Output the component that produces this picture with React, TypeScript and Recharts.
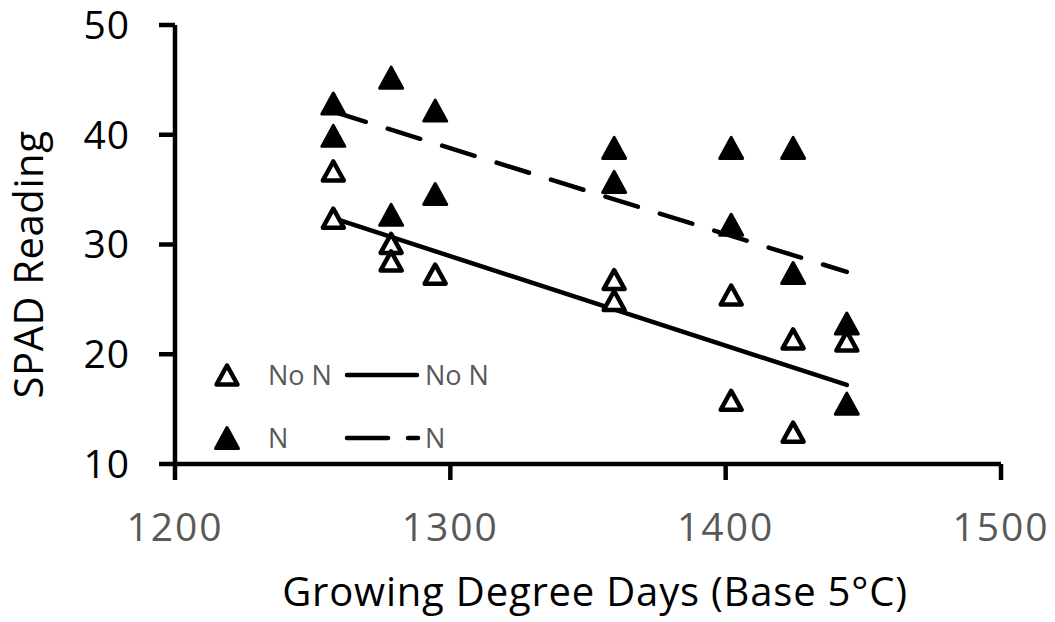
import { ComposedChart, Legend, Line, Scatter, XAxis, YAxis } from "recharts";

// growing degree days and SPAD readings
const noNGdd = [1257.5, 1257.5, 1278.5, 1278.5, 1294.5, 1359.5, 1359.5, 1402, 1402, 1424.5, 1424.5, 1444];
const noNSpad = [36.7, 32.4, 30.1, 28.5, 27.3, 26.8, 24.9, 25.4, 15.8, 21.4, 12.9, 21.2];

const nGdd = [1257.5, 1257.5, 1278.5, 1278.5, 1294.5, 1294.5, 1359.5, 1359.5, 1402, 1402, 1424.5, 1424.5, 1444, 1444];
const nSpad = [42.85, 39.9, 45.2, 32.7, 42.2, 34.6, 38.8, 35.7, 38.8, 31.8, 38.8, 27.4, 22.8, 15.5];

// linear trend lines (end points)
const trendGdd = [1257.5, 1444];
const noNTrend = [32.4, 17.2];
const nTrend = [42.1, 27.5];

const xTicks = [1200, 1300, 1400, 1500];
const yTicks = [10, 20, 30, 40, 50];

const FONT = "'Open Sans', sans-serif";
const GREY = "#595959";

const pairs = (xs: number[], ys: number[]) => xs.map((x, i) => ({ x, y: ys[i] }));

const noNData = pairs(noNGdd, noNSpad);
const nData = pairs(nGdd, nSpad);
const noNLine = pairs(trendGdd, noNTrend);
const nLine = pairs(trendGdd, nTrend);

function OpenTri({ cx, cy }: any) {
  return (
    <path
      d={`M${cx},${cy - 9.5} L${cx + 10.5},${cy + 9.5} L${cx - 10.5},${cy + 9.5} Z`}
      fill="#fff"
      stroke="#000"
      strokeWidth={4.5}
      strokeLinejoin="round"
    />
  );
}

function FilledTri({ cx, cy }: any) {
  return (
    <path
      d={`M${cx},${cy - 10.5} L${cx + 11.5},${cy + 10.5} L${cx - 11.5},${cy + 10.5} Z`}
      fill="#000"
      stroke="#000"
      strokeWidth={3}
      strokeLinejoin="round"
    />
  );
}

function LegendBox() {
  const txt = { fontFamily: FONT, fontSize: 27, fill: GREY };
  return (
    <svg width={300} height={110}>
      <OpenTri cx={17} cy={25} />
      <text x={58} y={25} dy="0.36em" {...txt}>No N</text>
      <line x1={137} x2={207} y1={25} y2={25} stroke="#000" strokeWidth={4.5} strokeLinecap="round" />
      <text x={215} y={25} dy="0.36em" {...txt}>No N</text>
      <FilledTri cx={17} cy={88} />
      <text x={58} y={88} dy="0.36em" {...txt}>N</text>
      <line x1={137} x2={208} y1={88} y2={88} stroke="#000" strokeWidth={4.5} strokeLinecap="round" strokeDasharray="41 20" />
      <text x={215} y={88} dy="0.36em" {...txt}>N</text>
    </svg>
  );
}

function YTitle({ viewBox }: any) {
  const x = viewBox.x + 43;
  const y = viewBox.y + viewBox.height / 2 + 20;
  return (
    <text
      x={x}
      y={y}
      transform={`rotate(-90 ${x} ${y})`}
      textAnchor="middle"
      fontFamily={FONT}
      fontSize={40}
      letterSpacing={0.6}
      fill="#000"
    >
      SPAD Reading
    </text>
  );
}

function XTitle({ viewBox }: any) {
  return (
    <text
      x={viewBox.x + viewBox.width / 2 + 7}
      y={606}
      textAnchor="middle"
      fontFamily={FONT}
      fontSize={40}
      letterSpacing={0.8}
      fill="#000"
    >
      Growing Degree Days (Base 5°C)
    </text>
  );
}

export default function App() {
  const axis = { stroke: "#000", strokeWidth: 4.5 };
  return (
    <div style={{ position: "absolute", left: 0, top: 0, background: "#fff" }}>
      <ComposedChart width={1055} height={622} margin={{ top: 25, right: 54, bottom: 0, left: 0 }}>
        <XAxis
          type="number"
          dataKey="x"
          domain={[1200, 1500]}
          ticks={xTicks}
          height={158}
          axisLine={axis}
          tickLine={axis}
          tickSize={16}
          tickMargin={33}
          tick={{ fill: GREY, fontSize: 39, fontFamily: FONT, letterSpacing: 2 }}
          label={{ content: <XTitle /> }}
        />
        <YAxis
          type="number"
          dataKey="y"
          domain={[10, 50]}
          ticks={yTicks}
          width={175}
          axisLine={axis}
          tickLine={axis}
          tickSize={16}
          tickMargin={29}
          tick={{ fill: "#000", fontSize: 39, fontFamily: FONT, letterSpacing: 1 }}
          label={{ content: <YTitle /> }}
        />
        <Scatter name="No N" data={noNData} shape={<OpenTri />} isAnimationActive={false} />
        <Scatter name="N" data={nData} shape={<FilledTri />} isAnimationActive={false} />
        <Line
          data={noNLine}
          dataKey="y"
          type="linear"
          stroke="#000"
          strokeWidth={4.5}
          strokeLinecap="round"
          dot={false}
          isAnimationActive={false}
        />
        <Line
          data={nLine}
          dataKey="y"
          type="linear"
          stroke="#000"
          strokeWidth={4.5}
          strokeLinecap="round"
          strokeDasharray="34 23"
          dot={false}
          isAnimationActive={false}
        />
        <Legend
          layout="horizontal"
          verticalAlign="middle"
          align="center"
          content={<LegendBox />}
          wrapperStyle={{ left: 210, top: 350, width: 300, height: 110 }}
        />
      </ComposedChart>
    </div>
  );
}
